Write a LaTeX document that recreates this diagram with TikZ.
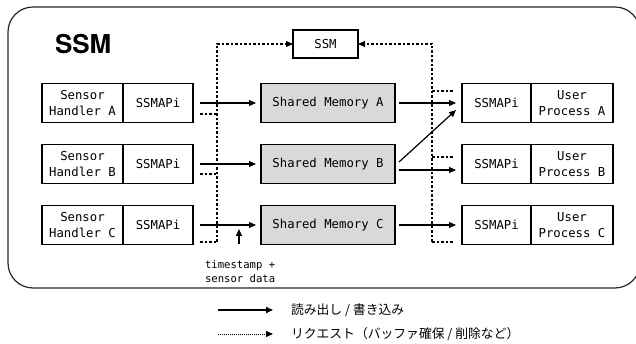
\documentclass[tikz,border=0pt]{standalone}
\usepackage{fontspec}
\setmonofont{DejaVu Sans Mono}
\newfontfamily\titlefont{TeX Gyre Heros}
\newfontfamily\jpfont{Noto Sans CJK JP}
\usetikzlibrary{arrows.meta,calc}
\begin{document}
\begin{tikzpicture}[x=1pt,y=-1pt,
  box/.style={draw, line width=1.6pt, minimum height=39pt, inner sep=0pt, outer sep=0pt,
    font=\ttfamily\fontsize{12.3}{15.5}\selectfont, align=center},
  mem/.style={box, fill=black!15, minimum width=134pt},
  tip/.style={-{Triangle[length=7pt,width=6pt]}},
  arr/.style={line width=1.2pt, tip},
  req/.style={line width=1.1pt, dash pattern=on 2.5pt off 2pt},
  lbl/.style={inner sep=0pt, outer sep=0pt},
  legtext/.style={lbl, anchor=west, font=\jpfont\fontsize{12.8}{14}\selectfont}
  ]
\useasboundingbox (0,0) rectangle (636,344);
\clip (0,0) rectangle (636,344);
\draw[line width=1.2pt, black!85, rounded corners=25pt] (8,7) rectangle (640,288);

\node[lbl, anchor=base west, font=\titlefont\bfseries\fontsize{26}{26}\selectfont] (title) at (55,54) {SSM};

\node[box, minimum width=65pt, minimum height=28pt] (ssm) at (325.5,44) {SSM};

\foreach \r/\y in {A/103,B/164,C/225}{
  \node[box, minimum width=81pt] (sh\r) at (82.5,\y) {Sensor\\Handler \r};
  \node[box, minimum width=70pt] (sa\r) at (158,\y) {SSMAPi};
  \node[mem] (sm\r) at (328,\y) {Shared Memory \r};
  \node[box, minimum width=69pt] (ua\r) at (496.5,\y) {SSMAPi};
  \node[box, minimum width=82pt] (up\r) at (572,\y) {User\\Process \r};
  \draw[arr] ($(sa\r.east)+(7,0)$) -- ($(sm\r.west)+(-5,0)$);
}

% right solid arrows
\draw[arr] ($(smA.east)+(4,0)$) -- ($(uaA.west)+(-6,0)$);
\draw[arr] ($(smB.east)+(4,6)$) -- ($(uaB.west)+(-6,6)$);
\draw[arr] ($(smB.east)+(4,-2)$) -- ($(uaA.west)+(-6,7)$);
\draw[arr] ($(smC.east)+(4,0)$) -- ($(uaC.west)+(-6,0)$);

% request lines
\coordinate (lb) at (217,242);
\coordinate (rb) at (432,242);
\draw[req, tip] (lb) |- (ssm.west);
\draw[req, tip] (rb) |- (ssm.east);
\draw[req] ($(saA.east)+(7,11)$) -- ($(saA.east)+(24,11)$);
\draw[req] ($(saB.east)+(7,10)$) -- ($(saB.east)+(24,10)$);
\draw[req] ($(saC.east)+(7,17)$) -- (lb);
\draw[req] ($(uaA.west)+(-30,-12)$) -- ($(uaA.west)+(-9,-12)$);
\draw[req] ($(uaB.west)+(-30,-7)$) -- ($(uaB.west)+(-9,-7)$);
\draw[req] (rb) -- ($(uaC.west)+(-9,17)$);

% timestamp
\node[lbl, anchor=north west, align=left, font=\ttfamily\fontsize{10.6}{14}\selectfont] (ts) at (205,260) {timestamp +\\sensor data};
\coordinate (tsb) at (239,244);
\draw[arr] (tsb) -- ++(0,-15);

% legend
\node[legtext] (lg1) at (291,310) {読み出し / 書き込み};
\node[legtext] (lg2) at (291,334) {リクエスト（バッファ確保 / 削除など）};
\coordinate (lg1s) at (218,310);
\coordinate (lg2s) at (218,334);
\draw[line width=1.6pt, tip] (lg1s) -- ($(lg1.west)+(-18,0)$);
\draw[line width=0.9pt, dash pattern=on 0.9pt off 1.1pt, tip] (lg2s) -- ($(lg2.west)+(-18,0)$);
\end{tikzpicture}
\end{document}
